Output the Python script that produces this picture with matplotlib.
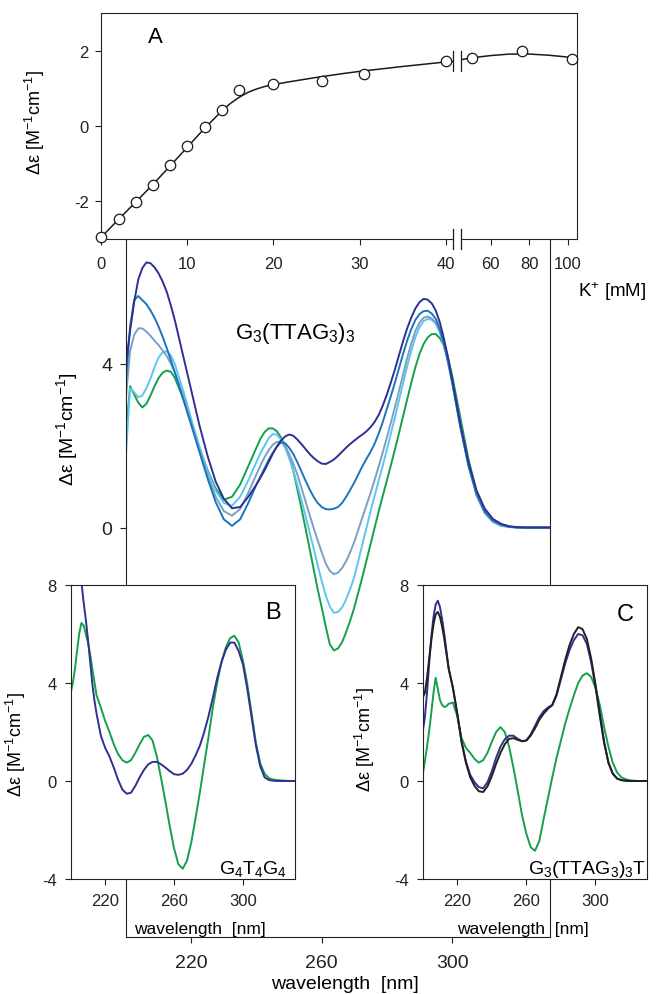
import numpy as np
import matplotlib
matplotlib.use("Agg")
import matplotlib.pyplot as plt
import matplotlib.transforms as mtransforms
from matplotlib.patches import Rectangle

plt.rcParams['font.family'] = ['Liberation Sans', 'DejaVu Sans']
plt.rcParams['mathtext.fontset'] = 'custom'
plt.rcParams['mathtext.rm'] = 'Liberation Sans'
plt.rcParams['mathtext.it'] = 'Liberation Sans:italic'
plt.rcParams['mathtext.bf'] = 'Liberation Sans:bold'
plt.rcParams['axes.unicode_minus'] = False
plt.rcParams['axes.linewidth'] = 0.8
plt.rcParams['axes.edgecolor'] = '#222222'
plt.rcParams['xtick.color'] = '#222222'
plt.rcParams['ytick.color'] = '#222222'

# ---- titration (panel A) ----
k_points = [0, 2, 4, 6, 8, 10, 12, 14, 16, 20, 25.6, 30.5, 40.1, 50.5, 76, 102]
de_points = [-2.95, -2.47, -2.02, -1.57, -1.03, -0.54, -0.02, 0.43, 0.95, 1.12,
             1.19, 1.39, 1.72, 1.80, 2.00, 1.78]
k_fit = [0, 2, 4, 6, 8, 10, 12, 14, 15, 16, 17, 18, 19, 20, 22, 25, 28, 30, 35, 40,
         41.3, 43.5, 50, 60, 70, 80, 90, 100, 104.8]
de_fit = [-2.95, -2.48, -2.02, -1.55, -1.06, -0.56, -0.06, 0.40, 0.60, 0.76, 0.89,
          0.98, 1.05, 1.10, 1.18, 1.29, 1.39, 1.45, 1.58, 1.70, 1.72, 1.75, 1.81,
          1.87, 1.91, 1.91, 1.88, 1.83, 1.80]
k_ticks = [0, 10, 20, 30, 40, 60, 80, 100]

# ---- CD spectra, G3(TTAG3)3 at rising K+ ----
wl_main = np.concatenate([np.arange(200, 215, 1.25), np.arange(215, 240, 2.5),
                          np.arange(240, 300.1, 1.25), np.arange(302.5, 330.1, 2.5)])

main_navy = [4.0, 4.8, 5.5, 6.05, 6.33, 6.47, 6.45, 6.35, 6.2, 6.0, 5.75, 5.42,
             5.05, 4.2, 3.35, 2.5, 1.75, 1.12, 0.7, 0.47, 0.5, 0.75,
             1.05, 1.22, 1.4, 1.6, 1.8, 1.98, 2.12, 2.22, 2.27, 2.24, 2.15, 2.04, 1.92,
             1.8, 1.7, 1.62, 1.56, 1.55, 1.6, 1.66, 1.75, 1.85, 1.95, 2.04, 2.12, 2.2,
             2.27, 2.35, 2.45, 2.58, 2.75, 2.98, 3.25, 3.55, 3.87, 4.22, 4.56, 4.87, 5.13,
             5.35, 5.5, 5.58, 5.56, 5.47, 5.29, 5.0, 4.6, 4.15, 3.63,
             2.53, 1.59, 0.9, 0.46, 0.21, 0.09, 0.03, 0.01, 0, 0, 0, 0]
main_blue = [3.6, 4.9, 5.55, 5.65, 5.55, 5.45, 5.3, 5.12, 4.9, 4.65, 4.38, 4.08,
             3.78, 3.15, 2.5, 1.85, 1.2, 0.62, 0.2, 0.04, 0.2, 0.6,
             1.05, 1.25, 1.45, 1.65, 1.82, 1.97, 2.08, 2.06, 1.95, 1.8, 1.6, 1.38, 1.15,
             0.94, 0.75, 0.6, 0.5, 0.45, 0.44, 0.46, 0.5, 0.6, 0.75, 0.92, 1.1, 1.3, 1.5,
             1.68, 1.85, 2.05, 2.3, 2.58, 2.9, 3.22, 3.55, 3.9, 4.25, 4.57, 4.85, 5.07,
             5.21, 5.28, 5.29, 5.22, 5.09, 4.84, 4.48, 4.05, 3.54,
             2.45, 1.51, 0.82, 0.39, 0.17, 0.07, 0.02, 0, 0, 0, 0, 0]
main_gray = [3.2, 4.3, 4.7, 4.86, 4.86, 4.78, 4.68, 4.56, 4.45, 4.32, 4.18, 4.0,
             3.78, 3.2, 2.55, 1.9, 1.28, 0.75, 0.4, 0.29, 0.45, 0.85,
             1.3, 1.52, 1.72, 1.89, 2.02, 2.09, 2.1, 1.99, 1.8, 1.57, 1.3, 0.98, 0.65,
             0.32, 0.0, -0.31, -0.6, -0.88, -1.06, -1.14, -1.1, -0.99, -0.82, -0.6, -0.35,
             -0.05, 0.25, 0.55, 0.85, 1.17, 1.5, 1.84, 2.2, 2.57, 2.95, 3.35, 3.75, 4.15,
             4.5, 4.8, 5.0, 5.12, 5.15, 5.1, 5.0, 4.77, 4.44, 4.02, 3.54,
             2.49, 1.51, 0.78, 0.36, 0.15, 0.05, 0.02, 0, 0, 0, 0, 0]
main_light = [1.8, 3.4, 3.3, 3.18, 3.22, 3.4, 3.63, 3.92, 4.15, 4.28, 4.3, 4.2,
              3.98, 3.35, 2.65, 1.98, 1.38, 0.9, 0.6, 0.53, 0.75, 1.15,
              1.6, 1.82, 2.0, 2.18, 2.28, 2.27, 2.15, 1.96, 1.7, 1.4, 1.05, 0.68, 0.3,
              -0.1, -0.5, -0.91, -1.3, -1.66, -1.93, -2.08, -2.06, -1.95, -1.75, -1.5,
              -1.2, -0.81, -0.4, 0.0, 0.4, 0.78, 1.15, 1.52, 1.9, 2.3, 2.7, 3.12, 3.54,
              3.95, 4.32, 4.65, 4.89, 5.04, 5.09, 5.07, 4.97, 4.76, 4.44, 4.05, 3.59,
              2.53, 1.55, 0.78, 0.35, 0.13, 0.04, 0.01, 0, 0, 0, 0, 0]
main_green = [2.3, 3.45, 3.25, 3.05, 2.93, 3.02, 3.22, 3.45, 3.65, 3.78, 3.83, 3.8,
              3.65, 3.15, 2.55, 1.95, 1.4, 0.95, 0.68, 0.75, 1.05, 1.5,
              1.95, 2.17, 2.33, 2.42, 2.42, 2.35, 2.2, 2.0, 1.75, 1.4, 0.95, 0.48, 0.0,
              -0.5, -1.0, -1.5, -1.95, -2.42, -2.85, -3.0, -2.95, -2.8, -2.55, -2.27,
              -1.95, -1.58, -1.2, -0.8, -0.4, 0.0, 0.4, 0.78, 1.15, 1.53, 1.92, 2.32,
              2.73, 3.14, 3.54, 3.92, 4.24, 4.48, 4.64, 4.72, 4.72, 4.62, 4.44, 4.12, 3.71,
              2.69, 1.67, 0.86, 0.37, 0.15, 0.05, 0.02, 0, 0, 0, 0, 0]

# ---- insets B and C ----
wl = np.concatenate([np.arange(200, 215, 1.25), np.arange(215, 330.1, 2.5)])

b_navy = [14.0, 13.0, 11.8, 10.5, 9.2, 8.1, 7.3, 6.6, 5.8, 4.9, 4.0, 3.3,
          2.75, 1.85, 1.35, 1.0, 0.55, 0.05, -0.35, -0.52, -0.48, -0.2, 0.15, 0.45,
          0.68, 0.78, 0.78, 0.68, 0.55, 0.4, 0.28, 0.25, 0.3, 0.45, 0.7, 1.05, 1.45,
          2.0, 2.65, 3.4, 4.2, 4.85, 5.35, 5.65, 5.65, 5.3, 4.75, 3.75, 2.6, 1.45, 0.6,
          0.15, 0.04, 0.01, 0, 0, 0, 0, 0]
b_green = [3.6, 4.0, 4.6, 5.35, 6.05, 6.45, 6.35, 6.0, 5.65, 5.2, 4.6, 4.05,
           3.5, 3.0, 2.45, 2.0, 1.5, 1.1, 0.85, 0.75, 0.85, 1.15, 1.5, 1.8, 1.88, 1.65,
           1.0, 0.1, -0.85, -1.85, -2.75, -3.4, -3.58, -3.25, -2.5, -1.5, -0.45, 0.7,
           1.8, 3.0, 4.0, 4.85, 5.45, 5.83, 5.93, 5.65, 4.9, 3.95, 2.75, 1.55, 0.72,
           0.3, 0.12, 0.06, 0.04, 0.02, 0.01, 0, 0]

c_navy = [2.0, 2.6, 3.6, 4.8, 5.9, 6.7, 7.2, 7.36, 7.1, 6.6, 6.0, 5.3,
          4.6, 3.8, 2.75, 1.6, 0.8, 0.25, -0.05, -0.25, -0.3, -0.05, 0.4, 0.95, 1.4,
          1.7, 1.85, 1.85, 1.72, 1.63, 1.66, 1.9, 2.25, 2.6, 2.85, 3.0, 3.1, 3.5, 4.15,
          4.8, 5.35, 5.75, 6.0, 5.95, 5.6, 4.85, 3.85, 2.65, 1.55, 0.75, 0.3, 0.1,
          0.04, 0.02, 0, 0, 0, 0, 0]
c_black = [3.4, 3.6, 4.2, 5.0, 5.75, 6.4, 6.8, 6.9, 6.7, 6.3, 5.8, 5.2,
           4.6, 3.8, 2.75, 1.6, 0.75, 0.15, -0.2, -0.42, -0.45, -0.22, 0.2, 0.7, 1.15,
           1.5, 1.72, 1.75, 1.68, 1.62, 1.65, 1.85, 2.15, 2.5, 2.75, 2.95, 3.1, 3.55,
           4.25, 4.95, 5.55, 6.0, 6.28, 6.2, 5.8, 5.0, 3.95, 2.75, 1.6, 0.75, 0.3, 0.1,
           0.03, 0.01, 0, 0, 0, 0, 0]
c_green = [0.25, 0.8, 1.4, 2.05, 2.8, 3.6, 4.22, 3.75, 3.3, 3.1, 3.02, 3.05,
           3.15, 3.2, 2.65, 1.75, 1.35, 1.15, 0.9, 0.75, 0.85, 1.15, 1.6, 2.0, 2.2, 2.0,
           1.4, 0.55, -0.4, -1.4, -2.15, -2.7, -2.85, -2.45, -1.55, -0.7, 0.15, 0.95,
           1.65, 2.35, 2.95, 3.5, 4.0, 4.3, 4.4, 4.25, 3.8, 3.1, 2.2, 1.4, 0.75, 0.35,
           0.15, 0.07, 0.03, 0.01, 0, 0, 0]

NAVY = '#2e3192'
BLUE = '#1c75bc'
GRAY = '#7aa0c6'
LIGHT = '#5cc6f0'
GREEN = '#14a04c'
BLACK = '#231f20'

ylab = 'Δε [M$^{-1}$cm$^{-1}$]'

# broken K+ axis: linear up to 41.35 mM, compressed above 42.65 mM
BRK, JMP, R = 41.35, 42.65, 0.2236


def k_fwd(k):
    k = np.asarray(k, dtype=float)
    gap = BRK + 0.01 * (k - BRK)
    hi = BRK + 0.01 * (JMP - BRK) + R * (k - JMP)
    return np.where(k <= BRK, k, np.where(k < JMP, gap, hi))


def k_inv(u):
    u = np.asarray(u, dtype=float)
    uj = BRK + 0.01 * (JMP - BRK)
    gap = BRK + (u - BRK) / 0.01
    hi = JMP + (u - uj) / R
    return np.where(u <= BRK, u, np.where(u < uj, gap, hi))


W, H = 656, 995


def box(left, top, right, bottom):
    return [left / W, 1 - bottom / H, (right - left) / W, (bottom - top) / H]


fig = plt.figure(figsize=(W / 100, H / 100), dpi=100)

# ---- main spectra ----
ax = fig.add_axes(box(126, 200.7, 550, 938.3), zorder=1)
for vals, col in [(main_green, GREEN), (main_light, LIGHT), (main_gray, GRAY),
                  (main_blue, BLUE), (main_navy, NAVY)]:
    ax.plot(wl_main, vals, color=col, lw=1.4)
ax.set_xlim(200, 330)
ax.set_ylim(-10, 8)
ax.spines['top'].set_visible(False)
ax.set_xticks([220, 260, 300])
ax.set_yticks([-8, -4, 0, 4, 8])
ax.tick_params(direction='out', length=4, width=0.8, labelsize=14)
ax.tick_params(axis='x', pad=8)
ax.tick_params(axis='y', pad=6)
ax.set_ylabel(ylab, fontsize=14)
ax.yaxis.set_label_coords(-0.108, 0.69)
ax.text(0.40, 0.812, 'G$_3$(TTAG$_3$)$_3$', transform=ax.transAxes,
        fontsize=16, ha='center', va='baseline')
# x label sits right at the bottom edge of the figure
fig.text(345 / W, 1.5 / H, 'wavelength  [nm]', fontsize=14,
         ha='center', va='bottom')

# ---- panel A ----
axa = fig.add_axes(box(101.3, 14, 577, 240), zorder=3)
axa.set_facecolor('white')
axa.set_xscale('function', functions=(k_fwd, k_inv))
axa.plot(k_fit, de_fit, color='#1a1a1a', lw=1.1, clip_on=False, zorder=2)
axa.plot(k_points, de_points, 'o', ms=7.5, mfc='white', mec='#1a1a1a', mew=0.9,
         clip_on=False, zorder=4)
axa.set_xlim(0, 104.8)
axa.set_ylim(-3, 3)
axa.set_xticks(k_ticks)
axa.set_xticklabels([str(t) for t in k_ticks])
axa.set_yticks([-2, 0, 2])
axa.tick_params(direction='out', length=4, width=0.8, labelsize=12)
axa.tick_params(axis='x', pad=8)
axa.tick_params(axis='y', pad=5)
axa.set_ylabel(ylab, fontsize=13)
axa.yaxis.set_label_coords(-0.114, 0.52)
axa.text(0.113, 0.894, 'A', transform=axa.transAxes, fontsize=16,
         ha='center', va='center')

# axis-break marks on the bottom spine and on the curve
k_l, k_r = 40.88, 44.65
bt = mtransforms.blended_transform_factory(axa.transData, axa.transAxes)
axa.add_patch(Rectangle((k_l, -0.012), k_r - k_l, 0.024, transform=bt,
                        facecolor='white', edgecolor='none', clip_on=False, zorder=5))
axa.add_patch(Rectangle((k_l, 1.5), k_r - k_l, 0.45, facecolor='white',
                        edgecolor='none', zorder=3))
for kx in (k_l, k_r):
    axa.plot([kx, kx], [-0.045, 0.045], color='#1a1a1a', lw=0.9,
             transform=bt, clip_on=False, zorder=6)
    axa.plot([kx, kx], [1.46, 1.99], color='#1a1a1a', lw=0.9, zorder=3.5)

fig.text(578 / W, 1 - 291.7 / H, 'K$^{+}$ [mM]', fontsize=13.5,
         ha='left', va='center')

# ---- panel B ----
axb = fig.add_axes(box(70.7, 586, 294.7, 880), zorder=3)
axb.set_facecolor('white')
axb.plot(wl, b_green, color=GREEN, lw=1.4)
axb.plot(wl, b_navy, color=NAVY, lw=1.4)
axb.text(0.903, 0.908, 'B', transform=axb.transAxes, fontsize=17,
         ha='center', va='center')
axb.text(0.966, 0.02, 'G$_4$T$_4$G$_4$', transform=axb.transAxes, fontsize=14,
         ha='right', va='baseline')

# ---- panel C ----
axc = fig.add_axes(box(422.7, 586, 647.3, 880), zorder=3)
axc.set_facecolor('white')
axc.plot(wl, c_green, color=GREEN, lw=1.4)
axc.plot(wl, c_navy, color=NAVY, lw=1.4)
axc.plot(wl, c_black, color=BLACK, lw=1.4)
axc.text(0.90, 0.901, 'C', transform=axc.transAxes, fontsize=17,
         ha='center', va='center')
axc.text(0.994, 0.02, 'G$_3$(TTAG$_3$)$_3$T', transform=axc.transAxes,
         fontsize=14, ha='right', va='baseline')

for a, xl in [(axb, 0.577), (axc, 0.447)]:
    a.set_xlim(200, 330)
    a.set_ylim(-4, 8)
    a.set_xticks([220, 260, 300])
    a.set_yticks([-4, 0, 4, 8])
    a.tick_params(direction='out', length=4, width=0.8, labelsize=12)
    a.tick_params(axis='x', pad=6)
    a.tick_params(axis='y', pad=6)
    a.set_xlabel('wavelength  [nm]', fontsize=12.5)
    a.xaxis.set_label_coords(xl, -0.142)
    a.set_ylabel(ylab, fontsize=13)
axb.yaxis.set_label_coords(-0.19, 0.46)
axc.yaxis.set_label_coords(-0.203, 0.476)

fig.savefig('out.png', dpi=100)
